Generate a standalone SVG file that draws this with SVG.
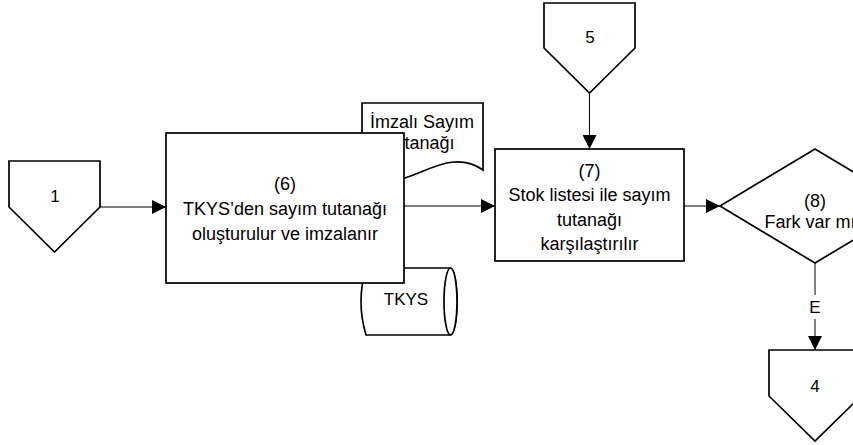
<svg xmlns="http://www.w3.org/2000/svg" width="853" height="445" viewBox="0 0 853 445">
<style>
.shape{fill:#fff;stroke:#000;stroke-width:1.7}
.line{fill:none;stroke:#000;stroke-width:1}
.t{font-family:"Liberation Sans",Arial,sans-serif;font-size:18px;fill:#000;text-anchor:middle}
.n{font-family:"Liberation Sans",Arial,sans-serif;font-size:17px;fill:#000;text-anchor:middle}
</style>
<defs>
<marker id="arr" markerUnits="userSpaceOnUse" markerWidth="14" markerHeight="14" refX="14" refY="7" orient="auto">
<path d="M0,0 L14,7 L0,14 z" fill="#000"/>
</marker>
</defs>
<rect width="853" height="445" fill="#fff"/>
<g id="connectors">
<line class="line" x1="100" y1="207" x2="166" y2="207" marker-end="url(#arr)"/>
<line class="line" x1="404" y1="206" x2="495" y2="206" marker-end="url(#arr)"/>
<line class="line" x1="589.5" y1="93" x2="589.5" y2="149" marker-end="url(#arr)"/>
<line class="line" x1="684" y1="206" x2="720" y2="206" marker-end="url(#arr)"/>
<line class="line" x1="815" y1="263" x2="815" y2="295"/>
<line class="line" x1="815" y1="319" x2="815" y2="350" marker-end="url(#arr)"/>
<text class="n" x="815" y="313">E</text>
</g>
<g id="c1">
<path class="shape" d="M9,161 H100 V207 L54.5,252 L9,207 Z"/>
<text class="n" x="55" y="202">1</text>
</g>
<g id="c5">
<path class="shape" d="M544,3 H635 V48 L589.5,93 L544,48 Z"/>
<text class="n" x="590" y="43">5</text>
</g>
<g id="c4">
<path class="shape" d="M769,350 H861 V396 L815,441 L769,396 Z"/>
<text class="n" x="815" y="392">4</text>
</g>
<g id="doc">
<path class="shape" d="M362,103 H483 V170 C440,140 400,205 362,172 Z"/>
<text class="t" x="422" y="128">İmzalı Sayım</text>
<text class="t" x="422" y="149">tutanağı</text>
</g>
<g id="tkys">
<path class="shape" d="M366,268 H450.5 A6.5,33.5 0 0 1 450.5,335 H366 Q356,301.5 366,268 Z"/>
<ellipse class="shape" cx="450.5" cy="301.5" rx="6.5" ry="33.5" fill="none"/>
<text class="n" x="406" y="305">TKYS</text>
</g>
<g id="p6">
<rect class="shape" x="166" y="133" width="238" height="150"/>
<text class="t" x="285" y="190">(6)</text>
<text class="t" x="285" y="215">TKYS’den sayım tutanağı</text>
<text class="t" x="285" y="240">oluşturulur ve imzalanır</text>
</g>
<g id="p7">
<rect class="shape" x="495" y="149" width="189" height="112"/>
<text class="t" x="589.5" y="177">(7)</text>
<text class="t" x="589.5" y="201">Stok listesi ile sayım</text>
<text class="t" x="589.5" y="226">tutanağı</text>
<text class="t" x="589.5" y="250">karşılaştırılır</text>
</g>
<g id="d8">
<path class="shape" d="M720,206 L815,149 L910,206 L815,263 Z"/>
<text class="t" x="815" y="207">(8)</text>
<text class="t" x="815" y="228">Fark var mı?</text>
</g>
</svg>
